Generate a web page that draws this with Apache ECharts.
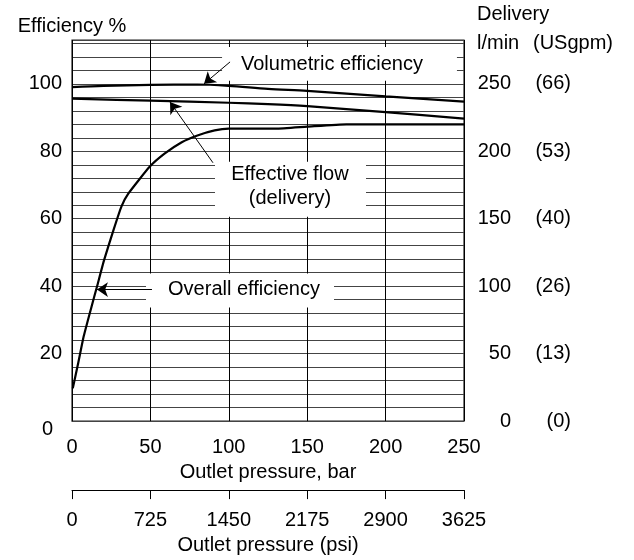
<!DOCTYPE html>
<html>
<head>
<meta charset="utf-8">
<script src="https://cdn.jsdelivr.net/npm/echarts@6/dist/echarts.min.js"></script>
<style>
  html, body { margin: 0; padding: 0; background: #fff; }
  #chart { width: 634px; height: 560px; }
</style>
</head>
<body>
<div id="chart"></div>
<script>
// pressure in bar, efficiency / flow in % of 250 l/min
var volBar = [0, 20, 50, 80, 100, 125, 150, 200, 250];
var volPct = [99.0, 99.4, 99.7, 99.8, 99.4, 98.5, 97.9, 96.3, 94.7];

var flowBar = [0, 50, 100, 125, 150, 200, 250];
var flowPct = [95.6, 95.0, 94.4, 94.0, 93.4, 91.6, 89.7];

var overallBar = [0.5, 4, 7.5, 12.5, 16, 20.5, 26.5, 31.5, 36, 49.5, 59, 70, 80, 91, 100, 130, 150, 175, 200, 250];
var overallPct = [9.7, 17.3, 25.2, 34, 40, 47.8, 56.7, 63.6, 67.5, 75.4, 79.3, 82.7, 84.7, 86.2, 86.7, 86.7, 87.3, 88, 88, 88];

var deliveryTicks = [0, 50, 100, 150, 200, 250];
var gpmTicks = [0, 13, 26, 40, 53, 66];
var psiTicks = [0, 725, 1450, 2175, 2900, 3625];

// text boxes in data units (bar, %)
var notes = [
    { text: 'Volumetric efficiency', box: [95.7, 110.9, 245.5, 100.9], at: [165.8, 105.6], arrow: [[100.8, 106.5], [84.2, 100.0]] },
    { text: 'Effective flow\n(delivery)', box: [91.2, 76.9, 187.5, 60.6], at: [139, 69.6], arrow: [[89.9, 76.6], [62.5, 94.6]] },
    { text: 'Overall efficiency', box: [47.2, 43.8, 167.1, 33.7], at: [109.7, 39.1], arrow: [[51, 39], [15.9, 39]] }
];

function zip(xs, ys) {
    return xs.map(function(x, i) { return [x, ys[i]]; });
}

var font = 'Liberation Sans, Arial, Helvetica, sans-serif';
var fs = 20;

var chart = echarts.init(document.getElementById('chart'));

var lineStyle = { color: '#000', width: 2.2 };

var option = {
    animation: false,
    textStyle: { fontFamily: font },
    title: {
        left: 477, top: 0, padding: 0,
        text: '{d|Delivery}\n{n|l/min}{g|(USgpm)}',
        textStyle: {
            fontWeight: 'normal',
            rich: {
                d: { fontSize: fs, fontFamily: font, fontWeight: 'normal', color: '#000', lineHeight: 29 },
                n: { width: 56, align: 'left', fontSize: fs, fontFamily: font, fontWeight: 'normal', color: '#000', lineHeight: 29 },
                g: { align: 'left', fontSize: fs, fontFamily: font, fontWeight: 'normal', color: '#000', lineHeight: 29 }
            }
        }
    },
    grid: {
        left: 72, right: 170, top: 40, bottom: 138,
        show: true, borderColor: '#222', borderWidth: 1.2
    },
    xAxis: [{
        type: 'value', min: 0, max: 250, interval: 50,
        axisLine: { show: false },
        axisTick: { show: false },
        splitLine: { show: true, lineStyle: { color: '#000', width: 1 } },
        axisLabel: { color: '#000', fontSize: fs, fontFamily: font, margin: 16 },
        name: 'Outlet pressure, bar', nameLocation: 'middle', nameGap: 35,
        nameTextStyle: { color: '#000', fontSize: fs, fontFamily: font }
    }, {
        type: 'value', min: 0, max: 3625, interval: 725,
        position: 'bottom', offset: 69,
        axisLine: { show: true, onZero: false, lineStyle: { color: '#000', width: 1 } },
        axisTick: { show: true, inside: false, length: 9, lineStyle: { color: '#000' } },
        splitLine: { show: false },
        axisLabel: {
            color: '#000', fontSize: fs, fontFamily: font, margin: 20,
            formatter: function(v) { return psiTicks.indexOf(v) >= 0 ? String(v) : ''; }
        },
        name: 'Outlet pressure (psi)', nameLocation: 'middle', nameGap: 44,
        nameTextStyle: { color: '#000', fontSize: fs, fontFamily: font }
    }],
    yAxis: [{
        type: 'value', min: 0, max: 113, interval: 20,
        axisLine: { show: false },
        axisTick: { show: false },
        splitLine: { show: false },
        axisLabel: {
            color: '#000', fontSize: fs, fontFamily: font, margin: 10,
            showMaxLabel: false,
            formatter: function(v) { return v === 0 ? '{z|0}' : String(v); },
            rich: { z: { fontSize: fs, fontFamily: font, color: '#000', padding: [16, 9, 0, 0] } }
        },
        name: 'Efficiency %', nameLocation: 'end', nameGap: 4,
        nameTextStyle: { color: '#000', fontSize: fs, fontFamily: font, align: 'center', verticalAlign: 'bottom' }
    }, {
        type: 'value', min: 0, max: 282.5, interval: 10, position: 'right',
        axisLine: { show: false },
        axisTick: { show: false },
        splitLine: { show: true, lineStyle: { color: '#444', width: 1 } },
        axisLabel: {
            margin: 12, showMaxLabel: false,
            formatter: function(v) {
                var i = deliveryTicks.indexOf(v);
                if (i < 0) return '';
                return '{n|' + v + '}{g|(' + gpmTicks[i] + ')}';
            },
            rich: {
                n: { width: 35, align: 'right', fontSize: fs, fontFamily: font, color: '#000' },
                g: { width: 60, align: 'right', fontSize: fs, fontFamily: font, color: '#000' }
            }
        }
    }],
    series: [{
        name: 'Volumetric efficiency', type: 'line', showSymbol: false, smooth: 0.3,
        data: zip(volBar, volPct), lineStyle: lineStyle, z: 3
    }, {
        name: 'Effective flow', type: 'line', showSymbol: false, smooth: 0.3,
        data: zip(flowBar, flowPct), lineStyle: lineStyle, z: 3
    }, {
        name: 'Overall efficiency', type: 'line', showSymbol: false, smooth: 0.15,
        data: zip(overallBar, overallPct), lineStyle: lineStyle, z: 3,
        markLine: {
            silent: true,
            symbol: ['none', 'arrow'],
            symbolSize: 11,
            label: { show: false },
            lineStyle: { color: '#000', width: 1, type: 'solid' },
            emphasis: { disabled: true },
            data: notes.map(function(n) {
                return [{ coord: n.arrow[0] }, { coord: n.arrow[1] }];
            })
        }
    }]
};

chart.setOption(option);

// white text boxes that break the grid lines
var graphics = [];
notes.forEach(function(n) {
    var p1 = chart.convertToPixel({ xAxisIndex: 0, yAxisIndex: 0 }, [n.box[0], n.box[1]]);
    var p2 = chart.convertToPixel({ xAxisIndex: 0, yAxisIndex: 0 }, [n.box[2], n.box[3]]);
    var c = chart.convertToPixel({ xAxisIndex: 0, yAxisIndex: 0 }, n.at);
    graphics.push({
        type: 'rect', z: 1, silent: true,
        shape: { x: p1[0], y: p1[1], width: p2[0] - p1[0], height: p2[1] - p1[1] },
        style: { fill: '#fff' }
    });
    graphics.push({
        type: 'text', z: 4, silent: true,
        x: c[0], y: c[1],
        style: {
            text: n.text, fill: '#000', font: fs + 'px ' + font,
            align: 'center', verticalAlign: 'middle', lineHeight: 24
        }
    });
});
chart.setOption({ graphic: graphics });
</script>
</body>
</html>
